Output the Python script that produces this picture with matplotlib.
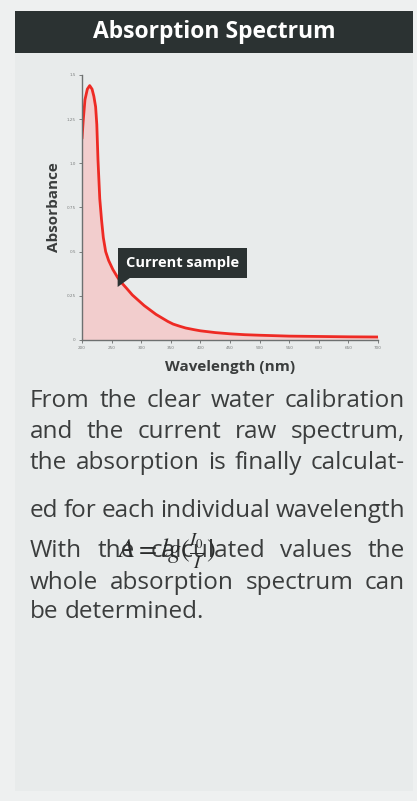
import numpy as np
import matplotlib
matplotlib.use("Agg")
import matplotlib.pyplot as plt
from matplotlib.patches import Rectangle, Polygon

# Absorption spectrum samples (wavelength in nm, absorbance)
wavelength = [200, 202, 205, 209, 213, 217, 220, 223, 225, 227, 230, 233, 236, 240,
              245, 252, 260, 268, 276, 285, 295, 305, 315, 325, 335, 345, 354, 365,
              375, 390, 400, 425, 450, 475, 500, 550, 600, 650, 700]
absorbance = [1.14, 1.24, 1.36, 1.42, 1.44, 1.42, 1.38, 1.32, 1.22, 1.02, 0.80, 0.68, 0.58,
              0.50, 0.45, 0.40, 0.355, 0.32, 0.29, 0.255, 0.225, 0.195, 0.17, 0.145,
              0.125, 0.105, 0.09, 0.078, 0.068, 0.058, 0.052, 0.042, 0.035, 0.030,
              0.027, 0.022, 0.020, 0.018, 0.017]

x_ticks = [200, 250, 300, 350, 400, 450, 500, 550, 600, 650, 700]
y_ticks = [0, 0.25, 0.5, 0.75, 1.0, 1.25, 1.5]
y_tick_labels = ["0", "0.25", "0.5", "0.75", "1.0", "1.25", "1.5"]

title = "Absorption Spectrum"
x_label = "Wavelength (nm)"
y_label = "Absorbance"
callout = "Current sample"
callout_wavelength = 252
callout_level = 0.30

body_lines = [
    ("From the clear water calibration", True),
    ("and the current raw spectrum,", True),
    ("the absorption is finally calculat-", True),
    ("ed for each individual wavelength", True),
    ("With the calculated values the", True),
    ("whole absorption spectrum can", True),
    ("be determined.", False),
]
formula = r"$A = lg(\frac{I_0}{I})$"

W, H = 417, 801
DPI = 100
dark = "#2b3232"
text_col = "#3b3d3d"

fig = plt.figure(figsize=(W / DPI, H / DPI), dpi=DPI, facecolor="#eef0f0")

# background card and title bar
fig.patches.append(Rectangle((15 / W, 10 / H), 398 / W, 780 / H,
                             transform=fig.transFigure, fc="#e8ebeb", ec="none", zorder=-10))
fig.patches.append(Rectangle((15 / W, 1 - 53 / H), 398 / W, 42 / H,
                             transform=fig.transFigure, fc=dark, ec="none", zorder=-9))
fig.text(214 / W, 1 - 32 / H, title, color="white", fontsize=16.5, fontweight="bold",
         family="Open Sans", ha="center", va="center")

# spectrum axes
ax = fig.add_axes([82 / W, 1 - 340 / H, (378 - 82) / W, (340 - 75) / H])
ax.set_facecolor("none")
ax.fill_between(wavelength, absorbance, 0, color="#f4caca", alpha=0.9, lw=0)
ax.plot(wavelength, absorbance, color="#ee2a24", lw=2.0, solid_capstyle="round",
        solid_joinstyle="round")
ax.set_xlim(200, 700)
ax.set_ylim(0, 1.5)
ax.set_xticks(x_ticks)
ax.set_xticklabels([str(v) for v in x_ticks])
ax.set_yticks(y_ticks)
ax.set_yticklabels(y_tick_labels)
ax.tick_params(labelsize=3, colors="#7a7d7d", length=2.5, width=0.7, pad=2)
for side in ("top", "right"):
    ax.spines[side].set_visible(False)
for side in ("left", "bottom"):
    ax.spines[side].set_color("#6d7070")
    ax.spines[side].set_linewidth(1.0)
ax.set_xlabel(x_label, fontsize=11, fontweight="bold", family="Open Sans",
              color="#3a3d3d", labelpad=7)
ax.set_ylabel(y_label, fontsize=11, fontweight="bold", family="Open Sans",
              color="#3a3d3d", labelpad=4)

# callout box with a pointer hanging from its lower-left corner
label = ax.annotate(callout, xy=(callout_wavelength, callout_level),
                    xytext=(50, 17), textcoords="offset points", ha="center", va="center",
                    fontsize=10.5, fontweight="bold", family="Open Sans", color="white",
                    bbox=dict(boxstyle="square,pad=0.55", fc=dark, ec="none"))
fig.canvas.draw()
renderer = fig.canvas.get_renderer()
box = label.get_bbox_patch().get_window_extent(renderer)
tip = ax.transData.transform((callout_wavelength, callout_level))
pointer = Polygon([(box.x0, box.y0 + 1), (box.x0 + 13, box.y0 + 1), (box.x0, tip[1])],
                  closed=True, transform=None, fc=dark, ec="none", zorder=5)
ax.add_artist(pointer)

# justified body text
left_px, right_px = 30, 405
line_y = [407, 438, 469, 517, 557, 589, 618]
font_kw = dict(fontsize=17.5, family="Open Sans", color=text_col, va="baseline")

for (line, justify), y in zip(body_lines, line_y):
    words = line.split(" ")
    texts = [fig.text(0, 1 - y / H, w, **font_kw) for w in words]
    widths = [t.get_window_extent(renderer).width for t in texts]
    if justify and len(words) > 1:
        gap = (right_px - left_px - sum(widths)) / (len(words) - 1)
    else:
        gap = fig.text(0, 0, " ", **font_kw).get_window_extent(renderer).width
    x = left_px
    for t, w in zip(texts, widths):
        t.set_x(x / W)
        x += w + gap

fig.text(166 / W, 1 - 558 / H, formula, fontsize=19, color="#2a2c2c",
         ha="center", va="baseline", math_fontfamily="stix")

fig.savefig("out.png", dpi=DPI, facecolor=fig.get_facecolor())
